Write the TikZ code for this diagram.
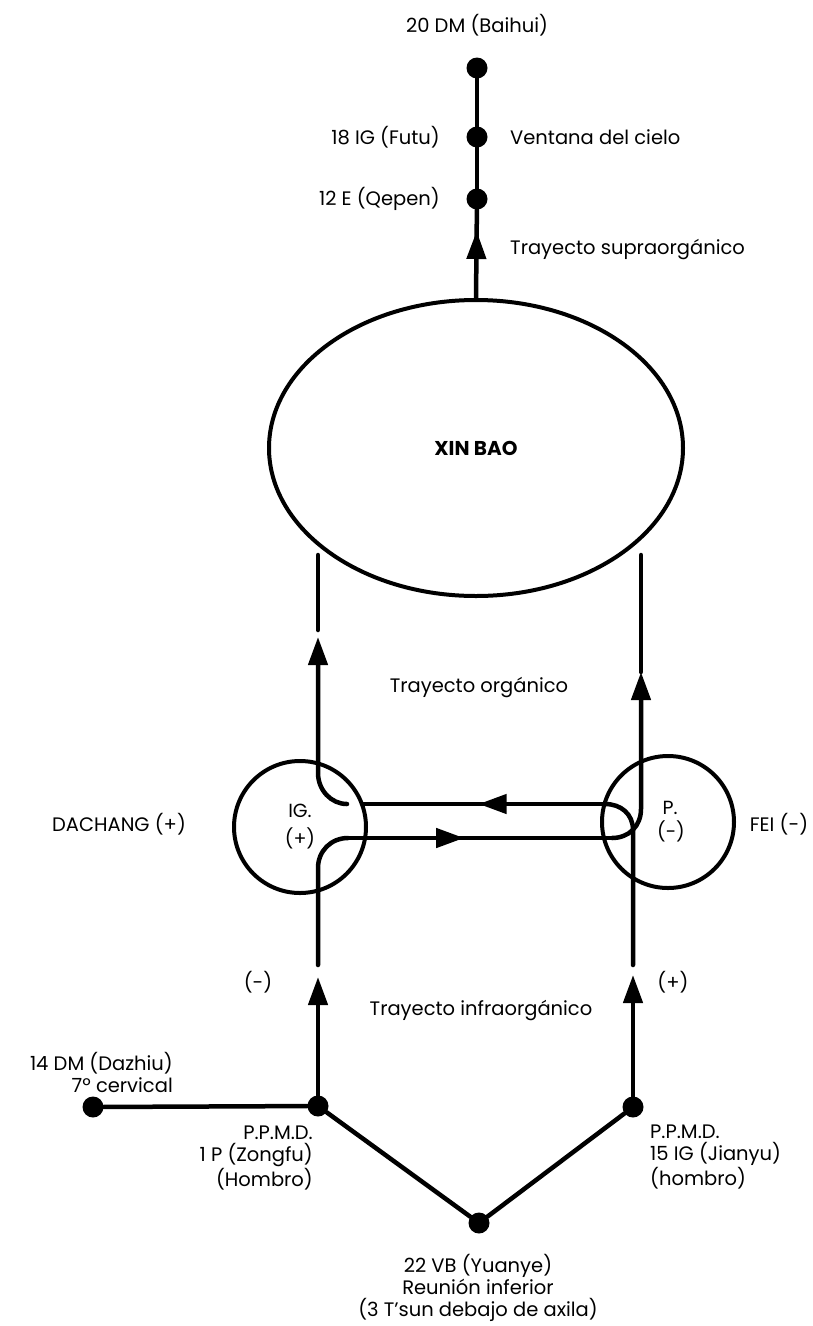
\documentclass[tikz,border=0pt]{standalone}
\usepackage{fontspec}
\setmainfont{Poppins}
\usetikzlibrary{arrows.meta,decorations.markings,shapes.geometric}

\begin{document}
\begin{tikzpicture}[x=1pt,y=-1pt,
  line/.style={line width=4.5pt, line cap=round},
  ring/.style={circle, draw, line width=4pt, minimum size=132pt, inner sep=0pt, align=center},
  dot/.style={circle, fill, inner sep=0pt, minimum size=21pt},
  lbl/.style={font=\fontsize{19.5}{22}\selectfont, inner sep=0pt},
  >={Triangle[length=28pt,width=19pt]},
  midarrow/.style={postaction={decorate}, decoration={markings, mark=at position #1 with {\arrow{>}}}}
]
\useasboundingbox (0,0) rectangle (812,1326);

% organ shapes
\node[draw, ellipse, line width=4pt, minimum width=414pt, minimum height=296pt, inner sep=0pt,
      font=\fontsize{20}{22}\selectfont\bfseries] (xin) at (476,448) {XIN BAO};
\node[ring, font=\fontsize{19}{21}\selectfont] (ig) at (300,827) {IG.\\[7pt](+)};
\node[ring, font=\fontsize{19}{21}\selectfont] (pc) at (668,822) {\hspace*{4pt}P.\\[3pt]\hspace*{6pt}(-)};

% points of the upper trajectory
\node[dot] (bai) at (477,68) {};
\node[dot] (futu) at (477,137) {};
\node[dot] (qepen) at (477,199) {};

% points of the lower trajectory
\node[dot] (dz) at (93,1107) {};
\node[dot] (zong) at (318,1106) {};
\node[dot] (jian) at (633,1107) {};
\node[dot] (yuan) at (479,1223) {};

% supra-organic line
\draw[line] (bai) -- (futu) -- (qepen);
\draw[line, midarrow=67pt] (xin.north) -- (qepen);

% left organic branch (IG -> XIN BAO)
\coordinate (lTop) at (318,555);
\coordinate (lGap) at (318,630);
\coordinate (lTip) at (318,637);
\coordinate (lBend) at (318,773);
\coordinate (lIn) at (347,804);
\draw[line] (lTop) -- (lGap);
\draw[line, ->] (lIn) .. controls (331,804) and (318,790) .. (lBend) -- (lTip);

% right organic branch (P -> XIN BAO)
\coordinate (rTop) at (641,555);
\coordinate (rTip) at (641,672);
\coordinate (rBend) at (641,809);
\coordinate (rIn) at (612,838);
\draw[line] (rTop) -- (rTip);
\draw[line, ->] (rIn) .. controls (629,838) and (641,826) .. (rBend) -- (rTip);

% upper crossing line (P -> IG)
\coordinate (pUpStart) at (633,965);
\coordinate (pUpBend) at (633,830);
\coordinate (pOut) at (605,804);
\coordinate (igEdgeA) at (362,804);
\draw[line] (pUpStart) -- (pUpBend) .. controls (633,814) and (621,804) .. (pOut);
\draw[line, midarrow=0.52] (pOut) -- (igEdgeA);

% lower crossing line (IG -> P)
\coordinate (igUpStart) at (318,965);
\coordinate (igUpBend) at (318,868);
\coordinate (igOut) at (348,838);
\draw[line] (igUpStart) -- (igUpBend) .. controls (318,851) and (331,838) .. (igOut);
\draw[line, midarrow=0.44] (igOut) -- (rIn);

% infra-organic lines
\coordinate (zongTip) at (318,977);
\coordinate (jianTip) at (633,975);
\draw[line, ->] (zong) -- (zongTip);
\draw[line, ->] (jian) -- (jianTip);
\draw[line] (dz) -- (zong) -- (yuan) -- (jian);

% labels
\node[lbl] (tBai) at (477,25) {20 DM (Baihui)};
\node[lbl, anchor=east] (tFutu) at (440,137) {18 IG (Futu)};
\node[lbl, anchor=east] (tQepen) at (440,199) {12 E (Qepen)};
\node[lbl, anchor=west] (tVent) at (510,137) {Ventana del cielo};
\node[lbl, anchor=west] (tSupra) at (510,250) {Trayecto supraorgánico};
\node[lbl] (tOrg) at (479,687) {Trayecto orgánico};
\node[lbl] (tDach) at (119,824) {DACHANG (+)};
\node[lbl] (tFei) at (779,824) {FEI (-)};
\node[lbl] (tMinus) at (258,982) {(-)};
\node[lbl] (tPlus) at (673,982) {(+)};
\node[lbl] (tInfra) at (481,1010) {Trayecto infraorgánico};
\node[lbl, anchor=east, align=right] (tDz) at (173,1072) {14 DM (Dazhiu)\\7º cervical};
\node[lbl, anchor=east, align=right] (tZong) at (313,1158) {P.P.M.D.\\1 P (Zongfu)\\(Hombro)};
\node[lbl, anchor=west, align=left] (tJian) at (650,1157) {P.P.M.D.\\15 IG (Jianyu)\\(hombro)};
\node[lbl, align=center] (tYuan) at (478,1288) {22 VB (Yuanye)\\Reunión inferior\\(3 T’sun debajo de axila)};
\end{tikzpicture}
\end{document}
